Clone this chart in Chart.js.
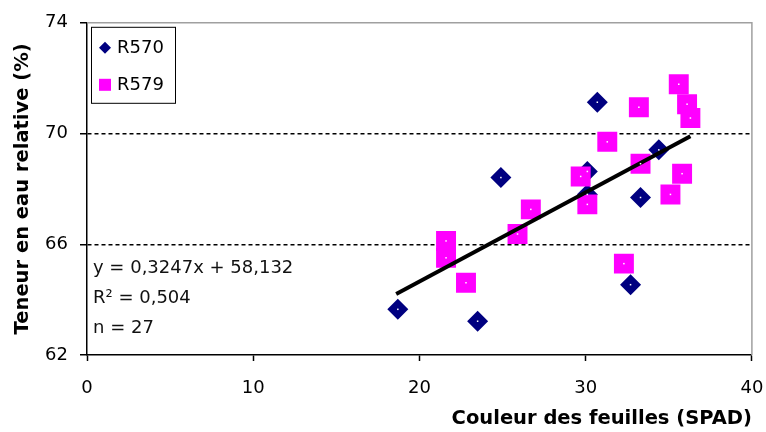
<!DOCTYPE html>
<html>
<head>
<meta charset="utf-8">
<script src="https://cdn.jsdelivr.net/npm/chart.js@4/dist/chart.umd.min.js"></script>
<style>
  html, body { margin: 0; padding: 0; background: #fff; }
  #wrap { width: 766px; height: 432px; }
</style>
</head>
<body>
<div id="wrap"><canvas id="chart" width="766" height="432"></canvas></div>
<script>
// Données
const r570X = [30.7, 34.4, 24.9, 30.1, 30.1, 33.3, 32.7, 18.7, 23.5];
const r570Y = [71.13, 69.41, 68.41, 68.63, 67.80, 67.69, 64.54, 63.65, 63.22];

const r579X = [33.2, 35.6, 36.1, 36.3, 31.3, 33.3, 29.7, 35.8, 35.1, 30.1, 26.7, 25.9, 21.6, 21.6, 22.8, 32.3];
const r579Y = [70.95, 71.78, 71.06, 70.56, 69.70, 68.91, 68.45, 68.55, 67.80, 67.44, 67.26, 66.37, 66.12, 65.51, 64.61, 65.30];

// extrémités de la droite de tendance
const trendX = [18.6, 36.3];
const trendY = [64.2, 69.9];

const yTicks = [62, 66, 70, 74];
const xTicks = [0, 10, 20, 30, 40];

const equationLines = ['y = 0,3247x + 58,132', 'R² = 0,504', 'n = 27'];

const toPoints = (xs, ys) => xs.map((x, i) => ({ x: x, y: ys[i] }));

const FONT = "'DejaVu Sans', sans-serif";

// cadre gris (haut + droite)
const frameBorder = {
    id: 'frameBorder',
    beforeDatasetsDraw(chart) {
        const { ctx, chartArea: a } = chart;
        ctx.save();
        ctx.strokeStyle = '#a0a0a0';
        ctx.lineWidth = 1.5;
        ctx.beginPath();
        ctx.moveTo(a.left, a.top);
        ctx.lineTo(a.right, a.top);
        ctx.lineTo(a.right, a.bottom);
        ctx.stroke();
        ctx.restore();
    }
};

// petit point blanc au centre des marqueurs
const centerDots = {
    id: 'centerDots',
    afterDatasetsDraw(chart) {
        const ctx = chart.ctx;
        ctx.save();
        ctx.fillStyle = '#fff';
        [0, 1].forEach(i => {
            chart.getDatasetMeta(i).data.forEach(pt => {
                ctx.fillRect(pt.x - 0.75, pt.y - 0.75, 1.5, 1.5);
            });
        });
        ctx.restore();
    }
};

// légende dans la zone du graphique + équation
const innerLegend = {
    id: 'innerLegend',
    afterDraw(chart) {
        const { ctx, chartArea: a } = chart;
        const bx = a.left + 4, by = a.top + 4, bw = 84, bh = 76;
        ctx.save();
        ctx.fillStyle = '#fff';
        ctx.fillRect(bx, by, bw, bh);
        ctx.strokeStyle = '#000';
        ctx.lineWidth = 1;
        ctx.strokeRect(bx + 0.5, by + 0.5, bw, bh);

        ctx.font = '18px ' + FONT;
        ctx.textBaseline = 'middle';
        ctx.fillStyle = '#000';

        const ds = chart.data.datasets;
        // R570 losange
        let cy = by + 21;
        ctx.fillStyle = ds[0].backgroundColor;
        ctx.beginPath();
        ctx.moveTo(bx + 14, cy - 6);
        ctx.lineTo(bx + 20, cy);
        ctx.lineTo(bx + 14, cy + 6);
        ctx.lineTo(bx + 8, cy);
        ctx.closePath();
        ctx.fill();
        ctx.fillStyle = '#000';
        ctx.fillText(ds[0].label, bx + 26, cy + 1);

        // R579 carré
        cy = by + 58;
        ctx.fillStyle = ds[1].backgroundColor;
        ctx.fillRect(bx + 8, cy - 6, 12, 12);
        ctx.fillStyle = '#000';
        ctx.fillText(ds[1].label, bx + 26, cy + 1);

        // équation de régression
        ctx.fillStyle = '#111';
        const ex = a.left + 6;
        const y0 = chart.scales.y.getPixelForValue(65.14);
        equationLines.forEach((t, i) => {
            ctx.fillText(t, ex, y0 + i * 30);
        });
        ctx.restore();
    }
};

new Chart(document.getElementById('chart'), {
    type: 'scatter',
    data: {
        datasets: [
            {
                label: 'R570',
                data: toPoints(r570X, r570Y),
                pointStyle: 'rectRot',
                pointRadius: 10.5,
                pointHoverRadius: 10.5,
                backgroundColor: '#000080',
                borderColor: '#000080',
                borderWidth: 0,
                order: 3
            },
            {
                label: 'R579',
                data: toPoints(r579X, r579Y),
                pointStyle: 'rect',
                pointRadius: 14.1,
                pointHoverRadius: 14.1,
                backgroundColor: '#ff00ff',
                borderColor: '#ff00ff',
                borderWidth: 0,
                order: 2
            },
            {
                type: 'line',
                label: 'Tendance',
                data: toPoints(trendX, trendY),
                showLine: true,
                borderColor: '#000',
                borderWidth: 4,
                pointRadius: 0,
                fill: false,
                order: 1
            }
        ]
    },
    options: {
        responsive: false,
        animation: false,
        layout: { padding: { top: 20, right: 8, left: 0, bottom: 0 } },
        plugins: {
            legend: { display: false },
            tooltip: { enabled: false }
        },
        scales: {
            x: {
                type: 'linear',
                min: 0,
                max: 40,
                afterBuildTicks: s => { s.ticks = xTicks.map(v => ({ value: v })); },
                afterFit: s => { s.height = 77; s.paddingLeft = 0; s.paddingRight = 0; },
                grid: { drawOnChartArea: false, drawTicks: true, tickLength: 6, tickColor: '#000', tickWidth: 1.5 },
                border: { display: true, color: '#000', width: 1.5 },
                ticks: { color: '#000', font: { family: FONT, size: 18 }, padding: 17, maxRotation: 0 },
                title: {
                    display: true,
                    text: 'Couleur des feuilles (SPAD)',
                    align: 'end',
                    color: '#000',
                    font: { family: FONT, size: 19.5, weight: 'bold' },
                    padding: { top: 0, bottom: 1 }
                }
            },
            y: {
                type: 'linear',
                min: 62,
                max: 74,
                afterBuildTicks: s => { s.ticks = yTicks.map(v => ({ value: v })); },
                afterFit: s => { s.width = 87; },
                grid: {
                    drawOnChartArea: true,
                    drawTicks: true,
                    tickLength: 7,
                    tickColor: '#000',
                    tickWidth: 1.5,
                    lineWidth: 1.5,
                    color: c => (c.tick && (c.tick.value === 66 || c.tick.value === 70)) ? '#000' : 'rgba(0,0,0,0)'
                },
                border: { display: true, color: '#000', width: 1.5, dash: [4, 3] },
                ticks: { color: '#000', font: { family: FONT, size: 18 }, padding: 12 },
                title: {
                    display: true,
                    text: 'Teneur en eau relative (%)',
                    color: '#000',
                    font: { family: FONT, size: 19.5, weight: 'bold' },
                    padding: { top: 11, bottom: 0 }
                }
            }
        }
    },
    plugins: [frameBorder, centerDots, innerLegend]
});
</script>
</body>
</html>
